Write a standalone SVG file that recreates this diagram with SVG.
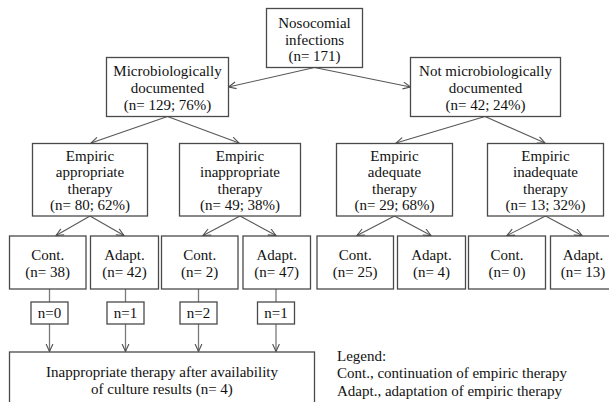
<svg xmlns="http://www.w3.org/2000/svg" width="609" height="402" viewBox="0 0 609 402">
<style>
.b{fill:#fff;stroke:#4a4a4a;stroke-width:1.3}
.t{font-family:"Liberation Serif","Times New Roman",serif;font-size:15px;fill:#111;text-anchor:middle}
.l{font-family:"Liberation Serif","Times New Roman",serif;font-size:15px;fill:#111}
.c{fill:none;stroke:#585858;stroke-width:1.1}
.v{fill:none;stroke:#7a7a7a;stroke-width:1.3}
</style>
<defs>
<marker id="ah" markerUnits="userSpaceOnUse" markerWidth="10" markerHeight="10" refX="8" refY="4" orient="auto">
<path d="M0.5,0.6 L8,4 L0.5,7.4" fill="none" stroke="#505050" stroke-width="1.1"/>
</marker>
</defs>
<rect width="609" height="402" fill="#fff"/>
<g id="connectors">
<path class="c" d="M314.5,67.5 L228.5,87" marker-end="url(#ah)"/>
<path class="c" d="M314.5,67.5 L410.5,87" marker-end="url(#ah)"/>
<path class="c" d="M167.5,116.5 L91,143" marker-end="url(#ah)"/>
<path class="c" d="M167.5,116.5 L239,143" marker-end="url(#ah)"/>
<path class="c" d="M485,116.5 L396,143" marker-end="url(#ah)"/>
<path class="c" d="M485,116.5 L545,143" marker-end="url(#ah)"/>
<path class="c" d="M90,216 L56,235.5" marker-end="url(#ah)"/>
<path class="c" d="M90,216 L124,235.5" marker-end="url(#ah)"/>
<path class="c" d="M240,216 L203,235.5" marker-end="url(#ah)"/>
<path class="c" d="M240,216 L276,235.5" marker-end="url(#ah)"/>
<path class="c" d="M394.5,216 L357,235.5" marker-end="url(#ah)"/>
<path class="c" d="M394.5,216 L431,235.5" marker-end="url(#ah)"/>
<path class="c" d="M545.5,216 L507,235.5" marker-end="url(#ah)"/>
<path class="c" d="M545.5,216 L582,235.5" marker-end="url(#ah)"/>
<path class="v" d="M49.5,289 V302 M125.5,289 V302 M198.5,289 V302 M276,289 V302"/>
<path class="v" d="M49.5,324 V351.5" marker-end="url(#ah)"/>
<path class="v" d="M125.5,324 V351.5" marker-end="url(#ah)"/>
<path class="v" d="M198.5,324 V351.5" marker-end="url(#ah)"/>
<path class="v" d="M276,324 V351.5" marker-end="url(#ah)"/>
</g>
<g id="n-root">
<rect class="b" x="266.5" y="8.5" width="96" height="59"/>
<text class="t" x="314.5" y="28">Nosocomial</text>
<text class="t" x="314.5" y="44.5">infections</text>
<text class="t" x="314.5" y="61">(n= 171)</text>
</g>
<g id="n-micro">
<rect class="b" x="106.5" y="57.5" width="122" height="59"/>
<text class="t" x="167.5" y="75.5">Microbiologically</text>
<text class="t" x="167.5" y="92.5">documented</text>
<text class="t" x="167.5" y="109.5">(n= 129; 76%)</text>
</g>
<g id="n-notmicro">
<rect class="b" x="410.5" y="57.5" width="150" height="59"/>
<text class="t" x="485.5" y="75.5">Not microbiologically</text>
<text class="t" x="485.5" y="92.5">documented</text>
<text class="t" x="485.5" y="109.5">(n= 42; 24%)</text>
</g>
<g id="n-appropriate">
<rect class="b" x="32.5" y="143.5" width="115" height="72.5"/>
<text class="t" x="90" y="160.5">Empiric</text>
<text class="t" x="90" y="177">appropriate</text>
<text class="t" x="90" y="193.5">therapy</text>
<text class="t" x="90" y="210">(n= 80; 62%)</text>
</g>
<g id="n-inappropriate">
<rect class="b" x="179.5" y="143.5" width="121" height="72.5"/>
<text class="t" x="240" y="160.5">Empiric</text>
<text class="t" x="240" y="177">inappropriate</text>
<text class="t" x="240" y="193.5">therapy</text>
<text class="t" x="240" y="210">(n= 49; 38%)</text>
</g>
<g id="n-adequate">
<rect class="b" x="336.5" y="143.5" width="116" height="72.5"/>
<text class="t" x="394.5" y="160.5">Empiric</text>
<text class="t" x="394.5" y="177">adequate</text>
<text class="t" x="394.5" y="193.5">therapy</text>
<text class="t" x="394.5" y="210">(n= 29; 68%)</text>
</g>
<g id="n-inadequate">
<rect class="b" x="487.5" y="143.5" width="116" height="72.5"/>
<text class="t" x="545.5" y="160.5">Empiric</text>
<text class="t" x="545.5" y="177">inadequate</text>
<text class="t" x="545.5" y="193.5">therapy</text>
<text class="t" x="545.5" y="210">(n= 13; 32%)</text>
</g>
<g id="n-cont1">
<rect class="b" x="9.5" y="236" width="76.5" height="53"/>
<text class="t" x="47.7" y="260">Cont.</text>
<text class="t" x="47.7" y="276.5">(n= 38)</text>
</g>
<g id="n-adapt1">
<rect class="b" x="90.5" y="236" width="68" height="53"/>
<text class="t" x="124.5" y="260">Adapt.</text>
<text class="t" x="124.5" y="276.5">(n= 42)</text>
</g>
<g id="n-cont2">
<rect class="b" x="161.5" y="236" width="76.5" height="53"/>
<text class="t" x="199.7" y="260">Cont.</text>
<text class="t" x="199.7" y="276.5">(n= 2)</text>
</g>
<g id="n-adapt2">
<rect class="b" x="243" y="236" width="67.5" height="53"/>
<text class="t" x="276.7" y="260">Adapt.</text>
<text class="t" x="276.7" y="276.5">(n= 47)</text>
</g>
<g id="n-cont3">
<rect class="b" x="317" y="236" width="76.5" height="53"/>
<text class="t" x="355.2" y="260">Cont.</text>
<text class="t" x="355.2" y="276.5">(n= 25)</text>
</g>
<g id="n-adapt3">
<rect class="b" x="397.5" y="236" width="68" height="53"/>
<text class="t" x="431.5" y="260">Adapt.</text>
<text class="t" x="431.5" y="276.5">(n= 4)</text>
</g>
<g id="n-cont4">
<rect class="b" x="468.5" y="236" width="77" height="53"/>
<text class="t" x="507" y="260">Cont.</text>
<text class="t" x="507" y="276.5">(n= 0)</text>
</g>
<g id="n-adapt4">
<rect class="b" x="550.5" y="236" width="66" height="53"/>
<text class="t" x="583" y="260">Adapt.</text>
<text class="t" x="583" y="276.5">(n= 13)</text>
</g>
<g id="n-f1">
<rect class="b" x="31" y="302" width="37" height="22"/>
<text class="t" x="49.5" y="318">n=0</text>
</g>
<g id="n-f2">
<rect class="b" x="107" y="302" width="37" height="22"/>
<text class="t" x="125.5" y="318">n=1</text>
</g>
<g id="n-f3">
<rect class="b" x="180" y="302" width="37" height="22"/>
<text class="t" x="198.5" y="318">n=2</text>
</g>
<g id="n-f4">
<rect class="b" x="257.5" y="302" width="37" height="22"/>
<text class="t" x="276" y="318">n=1</text>
</g>
<g id="n-result">
<rect class="b" x="9.5" y="352" width="305" height="60"/>
<text class="t" x="162" y="376.5">Inappropriate therapy after availability</text>
<text class="t" x="162" y="393.5">of culture results (n= 4)</text>
</g>
<g id="legend">
<text class="l" x="337" y="361">Legend:</text>
<text class="l" x="337" y="378">Cont., continuation of empiric therapy</text>
<text class="l" x="337" y="395.5">Adapt., adaptation of empiric therapy</text>
</g>
</svg>
